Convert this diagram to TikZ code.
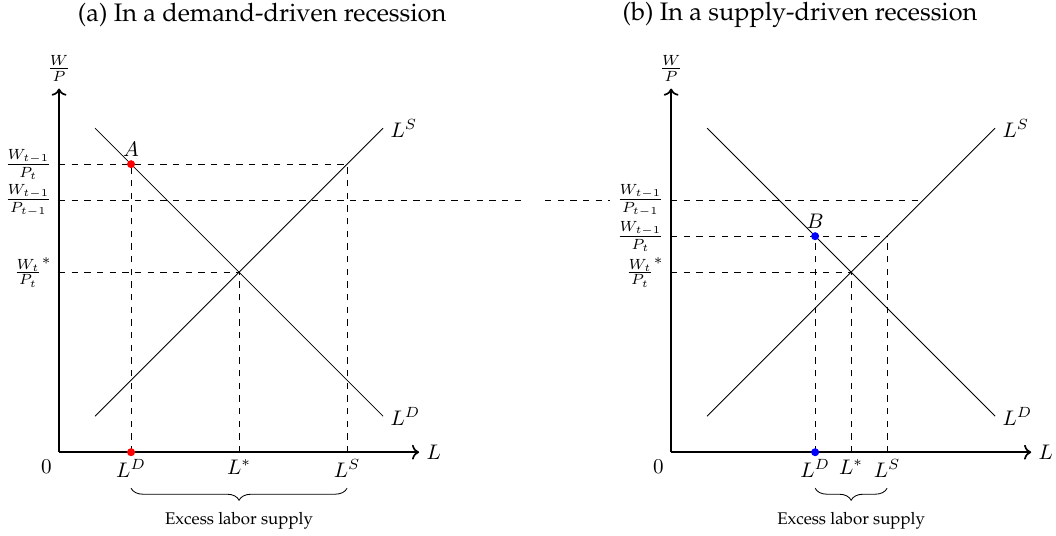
\documentclass[tikz,border=0pt]{standalone}
\usepackage{amsmath,amssymb}
\usepackage{tikz}
\usetikzlibrary{arrows.meta,positioning,calc,decorations.pathreplacing}

\newcommand{\palfont}{\usefont{T1}{ppl}{m}{n}}

\begin{document}
\begin{tikzpicture}[>=To, x=0.6cm, y=0.6cm,
  axis/.style={thick,->},
  guide/.style={dashed},
  curve/.style={thin},
  dot/.style={circle,fill,inner sep=0pt,minimum size=3.8pt},
  excess/.style={decorate,decoration={brace,mirror,amplitude=5.7pt}}]

  \useasboundingbox (-1.64,-2.31) rectangle (27.69,12.56);

  % Titles
  \node (ta) at (5.64,12.14) {\palfont\large (a) In a demand-driven recession};
  \node (tb) at (20.58,12.14) {\palfont\large (b) In a supply-driven recession};

  % ---------------- panel (a) ----------------
  % Define nodes
  \coordinate (Oa) at (0,0);
  \coordinate (Xa) at (10,0);
  \coordinate (Ya) at (0,10.1);
  \coordinate (Pa) at (2,8);
  \coordinate (Qa) at (2,0);
  \coordinate (Ea) at (5,5);
  \coordinate (Sa) at (8,8);
  \coordinate (X5a) at (5,0);
  \coordinate (X8a) at (8,0);
  \coordinate (Y8a) at (0,8);
  \coordinate (Y7a) at (0,7);
  \coordinate (Y5a) at (0,5);
  \coordinate (Fa) at (13,7);
  \coordinate (LDa1) at (1,9);
  \coordinate (LDa2) at (9,1);
  \coordinate (LSa1) at (1,1);
  \coordinate (LSa2) at (9,9);

  \node (zeroa) at (Oa) [below left] {$0$};
  \node (La) at (Xa) [right] {$L$};
  \node (WPa) at (Ya) [above] {$\frac{W}{P}$};
  \node (LDna) at (LDa2) [right] {$L^D$};
  \node (LSna) at (LSa2) [right] {$L^S$};
  \node (w1a) at (Y8a) [left] {$\frac{W_{t-1}}{P_t}$};
  \node (w0a) at (Y7a) [left] {$\frac{W_{t-1}}{P_{t-1}}$};
  \node (wsa) at (Y5a) [left] {$\frac{W_t}{P_t}^*$};
  \node (lda) at (Qa) [below] {$L^D$};
  \node (lea) at (X5a) [below] {$L^*$};
  \node (lsa) at (X8a) [below] {$L^S$};

  % Draw lines
  \draw[guide] (Y8a) -- (Sa);
  \draw[guide] (Y7a) -- (Fa);
  \draw[guide] (Y5a) -- (Ea);
  \draw[guide] (Qa) -- (Pa);
  \draw[guide] (X5a) -- (Ea);
  \draw[guide] (X8a) -- (Sa);
  \draw[curve] (LDa1) -- (LDa2);
  \draw[curve] (LSa1) -- (LSa2);
  \draw[axis] (Oa) -- (Xa);
  \draw[axis] (Oa) -- (Ya);

  \node (dotAa) at (Pa) [dot,red] {};
  \node (dotQa) at (Qa) [dot,red] {};
  \node (A) [above=-2pt of dotAa] {$A$};

  \draw[excess] (2,-1) -- (8,-1) node (exa) [midway,below=8pt] {\palfont\footnotesize Excess labor supply};

  % ---------------- panel (b) ----------------
  % Define nodes
  \coordinate (Ob) at (17,0);
  \coordinate (Xb) at (27,0);
  \coordinate (Yb) at (17,10.1);
  \coordinate (Pb) at (21,6);
  \coordinate (Qb) at (21,0);
  \coordinate (Eb) at (22,5);
  \coordinate (Sb) at (23,6);
  \coordinate (X5b) at (22,0);
  \coordinate (X6b) at (23,0);
  \coordinate (Y7b) at (17,7);
  \coordinate (Y6b) at (17,6);
  \coordinate (Y5b) at (17,5);
  \coordinate (Fb) at (13.5,7);
  \coordinate (Gb) at (24,7);
  \coordinate (LDb1) at (18,9);
  \coordinate (LDb2) at (26,1);
  \coordinate (LSb1) at (18,1);
  \coordinate (LSb2) at (26,9);

  \node (zerob) at (Ob) [below left] {$0$};
  \node (Lb) at (Xb) [right] {$L$};
  \node (WPb) at (Yb) [above] {$\frac{W}{P}$};
  \node (LDnb) at (LDb2) [right] {$L^D$};
  \node (LSnb) at (LSb2) [right] {$L^S$};
  \node (w0b) at (Y7b) [left] {$\frac{W_{t-1}}{P_{t-1}}$};
  \node (w1b) at (Y6b) [left] {$\frac{W_{t-1}}{P_t}$};
  \node (wsb) at (Y5b) [left] {$\frac{W_t}{P_t}^*$};
  \node (ldb) at (Qb) [below] {$L^D$};
  \node (leb) at (X5b) [below] {$L^*$};
  \node (lsb) at (X6b) [below] {$L^S$};

  % Draw lines
  \draw[guide] (Fb) -- (w0b);
  \draw[guide] (w0b) -- (Gb);
  \draw[guide] (Y6b) -- (Sb);
  \draw[guide] (Y5b) -- (Eb);
  \draw[guide] (Qb) -- (Pb);
  \draw[guide] (X5b) -- (Eb);
  \draw[guide] (X6b) -- (Sb);
  \draw[curve] (LDb1) -- (LDb2);
  \draw[curve] (LSb1) -- (LSb2);
  \draw[axis] (Ob) -- (Xb);
  \draw[axis] (Ob) -- (Yb);

  \node (dotBb) at (Pb) [dot,blue] {};
  \node (dotQb) at (Qb) [dot,blue] {};
  \node (B) [above=-2pt of dotBb] {$B$};

  \draw[excess] (21,-1) -- (23,-1) node (exb) [midway,below=8pt] {\palfont\footnotesize Excess labor supply};
\end{tikzpicture}
\end{document}
